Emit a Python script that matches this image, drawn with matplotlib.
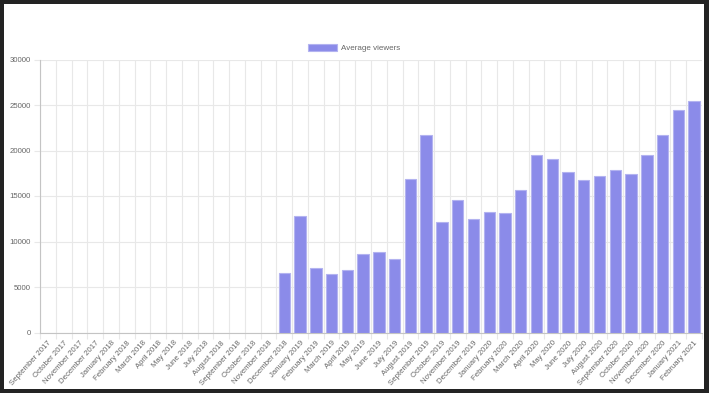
import matplotlib
matplotlib.use("Agg")
import matplotlib.pyplot as plt
from matplotlib.patches import Rectangle, Patch

months = [
    "September 2017", "October 2017", "November 2017", "December 2017",
    "January 2018", "February 2018", "March 2018", "April 2018", "May 2018",
    "June 2018", "July 2018", "August 2018", "September 2018", "October 2018",
    "November 2018", "December 2018", "January 2019", "February 2019",
    "March 2019", "April 2019", "May 2019", "June 2019", "July 2019",
    "August 2019", "September 2019", "October 2019", "November 2019",
    "December 2019", "January 2020", "February 2020", "March 2020",
    "April 2020", "May 2020", "June 2020", "July 2020", "August 2020",
    "September 2020", "October 2020", "November 2020", "December 2020",
    "January 2021", "February 2021",
]
average_viewers = [
    0, 0, 0, 0, 0, 0, 0, 0, 0, 0, 0, 0, 0, 0, 0,
    6550, 12800, 7100, 6450, 6850, 8650, 8870, 8100, 16850, 21720,
    12160, 14580, 12490, 13260, 13150, 15680, 19520, 19080, 17660,
    16780, 17220, 17880, 17440, 19520, 21690, 24400, 25460,
]
y_ticks = [0, 5000, 10000, 15000, 20000, 25000, 30000]

W, H = 709, 393
fig = plt.figure(figsize=(W / 100, H / 100), dpi=100)
fig.patch.set_facecolor("#232323")
fig.patches.append(Rectangle((4 / W, 4 / H), 700 / W, 385 / H,
                             transform=fig.transFigure, facecolor="white",
                             edgecolor="none", zorder=-5))

left, right, top, bottom = 40, 702, 59.5, 332.5
ax = fig.add_axes([left / W, (H - bottom) / H, (right - left) / W, (bottom - top) / H])
ax.set_zorder(2)
ax.set_facecolor("white")

x = list(range(len(months)))
vals = [v if v > 0 else float("nan") for v in average_viewers]
ax.bar(x, vals, width=0.72, color="#8b8be9", edgecolor="#b3b3f0",
       linewidth=0.8, zorder=3)

ax.set_xlim(-0.5, len(months) - 0.5)
ax.set_ylim(0, 30000)
ax.set_yticks(y_ticks)
ax.set_yticklabels([str(t) for t in y_ticks])

ax.set_xticks(x)
ax.set_xticklabels(months, rotation=48, ha="right", va="top",
                   rotation_mode="anchor")
ax.set_xticks([i - 0.5 for i in range(len(months) + 1)], minor=True)

grid_c = "#e8e8e8"
ax.grid(True, which="minor", axis="x", color=grid_c, linewidth=0.8, zorder=0)
ax.grid(True, which="major", axis="y", color=grid_c, linewidth=0.8, zorder=0)
ax.grid(False, which="major", axis="x")

ax.tick_params(axis="x", which="major", length=0, pad=5,
               labelsize=5.6, labelcolor="#666666")
ax.tick_params(axis="x", which="minor", length=4.5, color=grid_c, width=0.8)
ax.tick_params(axis="y", which="major", length=4.5, color=grid_c, width=0.8,
               pad=2, labelsize=5.6, labelcolor="#666666")

for s in ["top", "right"]:
    ax.spines[s].set_visible(False)
for s in ["left", "bottom"]:
    ax.spines[s].set_color("#c4c4c4")
    ax.spines[s].set_linewidth(0.8)

for lab in ax.get_xticklabels() + ax.get_yticklabels():
    lab.set_fontfamily("Liberation Sans")

handle = Patch(facecolor="#8b8be9", edgecolor="#b3b3f0", linewidth=0.8)
leg = fig.legend([handle], ["Average viewers"], loc="center",
                 bbox_to_anchor=(354 / W, (H - 48) / H), frameon=False,
                 prop={"family": "Liberation Sans", "size": 5.8},
                 labelcolor="#666666", handlelength=3.6, handleheight=0.9,
                 handletextpad=0.5, borderpad=0)
leg.set_zorder(3)

fig.savefig("out.png", dpi=100, facecolor=fig.get_facecolor())
